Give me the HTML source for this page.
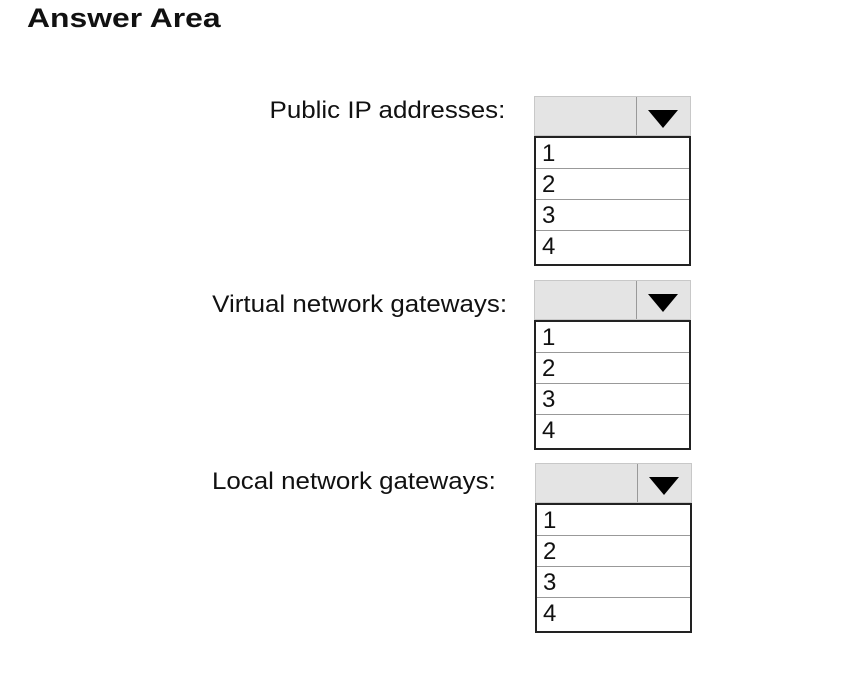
<!DOCTYPE html>
<html><head><style>
body{margin:0;width:841px;height:694px;background:#fff;position:relative;font-family:"Liberation Sans",Arial,sans-serif;overflow:hidden}
.t{position:absolute;font-size:24px;color:#111;white-space:nowrap;line-height:1;transform:scaleX(1.08);transform-origin:right top}
.h{position:absolute;left:534px;width:157px;height:40px;background:#e4e4e4;box-sizing:border-box;border:1px solid #c8c8c8}
.h .d{position:absolute;left:101px;top:0;width:1px;height:100%;background:#999}
.h .a{position:absolute;left:113px;top:13px;width:0;height:0;border-left:15px solid transparent;border-right:15px solid transparent;border-top:18px solid #000}
.l{position:absolute;left:534px;width:157px;height:130px;box-sizing:border-box;border:2px solid #222}
.l div{height:31px;box-sizing:border-box;border-bottom:1px solid #999;font-size:24px;padding-left:6px;line-height:31px;color:#111}
.l div:last-child{border-bottom:none}
</style></head><body>
<div class="t" style="left:27px;top:5px;font-weight:bold;font-size:27px;transform:scaleX(1.18);transform-origin:left top">Answer Area</div>
<div class="t" style="right:336px;top:99px">Public IP addresses:</div>
<div class="h" style="top:96px"><div class="d"></div><div class="a"></div></div>
<div class="l" style="top:136px"><div>1</div><div>2</div><div>3</div><div>4</div></div>
<div class="t" style="right:334px;top:293px">Virtual network gateways:</div>
<div class="h" style="top:280px"><div class="d"></div><div class="a"></div></div>
<div class="l" style="top:320px"><div>1</div><div>2</div><div>3</div><div>4</div></div>
<div class="t" style="right:345px;top:470px">Local network gateways:</div>
<div class="h" style="top:463px;left:535px"><div class="d"></div><div class="a"></div></div>
<div class="l" style="top:503px;left:535px"><div>1</div><div>2</div><div>3</div><div>4</div></div>
</body></html>
